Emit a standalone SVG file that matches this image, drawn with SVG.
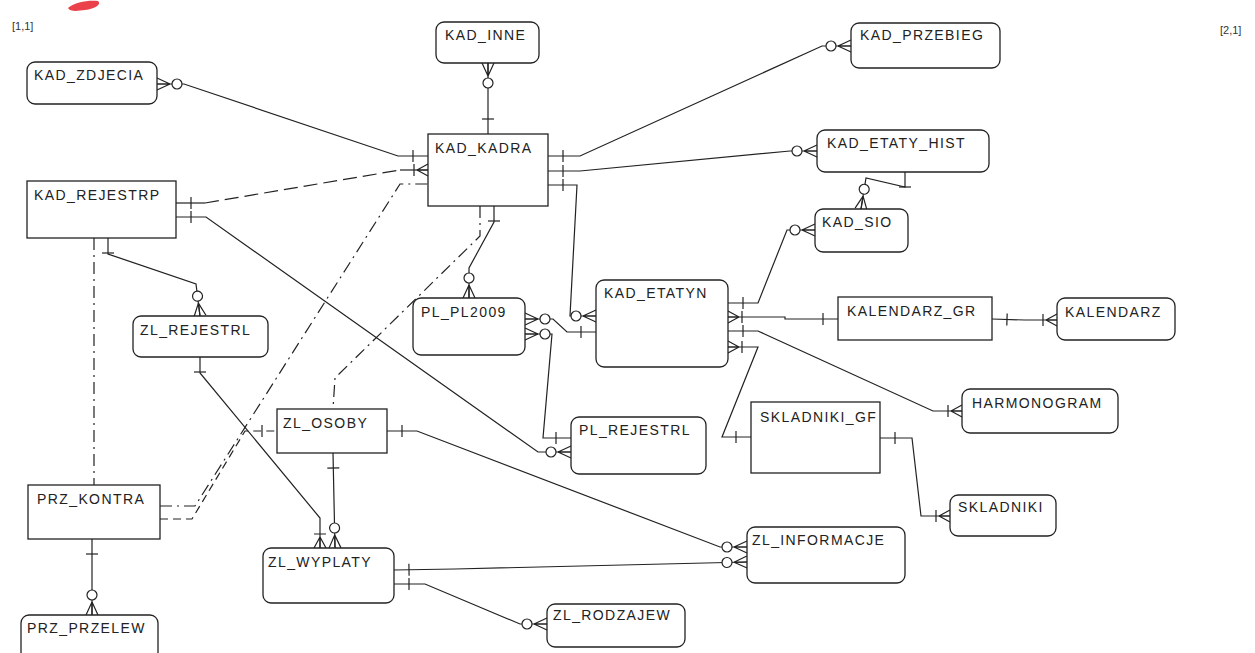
<svg xmlns="http://www.w3.org/2000/svg" width="1255" height="653" viewBox="0 0 1255 653">
<style>
.bg{fill:#ffffff}
.box{fill:#ffffff;stroke:#222;stroke-width:1.3}
.lbl{font-family:"Liberation Sans",Arial,sans-serif;font-size:14px;letter-spacing:1.4px;fill:#222}
.corner{font-family:"Liberation Sans",Arial,sans-serif;font-size:11px;fill:#333}
.ln{fill:none;stroke:#222;stroke-width:1.2}
.dash{stroke-dasharray:14 6}
.dashs{stroke-dasharray:8 5}
.dd{stroke-dasharray:12 5 2 5}
.mk{fill:none;stroke:#222;stroke-width:1.2}
.mc{fill:#ffffff;stroke:#222;stroke-width:1.2}
</style>
<defs>
<marker id="one" markerUnits="userSpaceOnUse" orient="auto-start-reverse" refX="0" refY="0" markerWidth="40" markerHeight="20" viewBox="-30 -10 40 20" overflow="visible">
<path class="mk" d="M-15,-6 V6"/>
</marker>
<marker id="zeroMany" markerUnits="userSpaceOnUse" orient="auto-start-reverse" refX="0" refY="0" markerWidth="40" markerHeight="20" viewBox="-30 -10 40 20" overflow="visible">
<path class="mk" d="M-13,0 L0,-6 M-13,0 L0,0 M-13,0 L0,6"/>
<circle class="mc" cx="-20" cy="0" r="5"/>
</marker>
<marker id="oneMany" markerUnits="userSpaceOnUse" orient="auto-start-reverse" refX="0" refY="0" markerWidth="40" markerHeight="20" viewBox="-30 -10 40 20" overflow="visible">
<path class="mk" d="M-11,0 L0,-6 M-11,0 L0,0 M-11,0 L0,6 M-14,-6 V6"/>
</marker>
</defs>
<rect class="bg" x="0" y="0" width="1255" height="653"/>
<path d="M68,8 C75,2 88,0 98,1 C102,4 95,9 85,10 C78,11 70,12 68,8 Z" fill="#e8202a" opacity="0.85"/>
<text class="corner" x="12" y="30">[1,1]</text>
<text class="corner" x="1220" y="34">[2,1]</text>

<g id="connectors">
<path class="ln" d="M488,134 L488,63" marker-start="url(#one)" marker-end="url(#zeroMany)"/>
<path class="ln" d="M428,156 L398,156 L184,84 L157,84" marker-start="url(#one)" marker-end="url(#zeroMany)"/>
<path class="ln" d="M176,203 L205,203" marker-start="url(#one)"/>
<path class="ln dash" d="M205,203 L400,170"/>
<path class="ln" d="M400,170 L428,170" marker-end="url(#oneMany)"/>
<path class="ln dd" d="M160,506 L195,506 L400,184 L428,184"/>
<path class="ln dashs" d="M160,519 L192,519 L245,431 L277,431" marker-end="url(#one)"/>
<path class="ln dd" d="M480,206 L480,236 L335,378 L333,409"/>
<path class="ln dd" d="M94,238 L94,485"/>
<path class="ln" d="M494,206 L494,222 L469,268 L469,298" marker-start="url(#one)" marker-end="url(#zeroMany)"/>
<path class="ln" d="M176,217 L206,217 L538,452 L571,452" marker-start="url(#one)" marker-end="url(#zeroMany)"/>
<path class="ln" d="M548,156 L580,156 L822,46 L851,46" marker-start="url(#one)" marker-end="url(#zeroMany)"/>
<path class="ln" d="M548,171 L580,171 L790,151 L817,151" marker-start="url(#one)" marker-end="url(#zeroMany)"/>
<path class="ln" d="M548,185 L577,185 L570,316 L596,316" marker-start="url(#one)" marker-end="url(#zeroMany)"/>
<path class="ln" d="M596,332 L567,332 L553,319 L525,319" marker-start="url(#one)" marker-end="url(#zeroMany)"/>
<path class="ln" d="M571,438 L543,438 L552,334 L525,334" marker-start="url(#one)" marker-end="url(#zeroMany)"/>
<path class="ln" d="M728,303 L758,303 L787,230 L815,230" marker-start="url(#one)" marker-end="url(#zeroMany)"/>
<path class="ln" d="M728,317 L785,317 L785,319 L838,319" marker-start="url(#oneMany)" marker-end="url(#one)"/>
<path class="ln" d="M728,331 L758,331 L933,411 L962,411" marker-start="url(#one)" marker-end="url(#oneMany)"/>
<path class="ln" d="M728,347 L758,347 L722,437 L751,437" marker-start="url(#oneMany)" marker-end="url(#one)"/>
<path class="ln" d="M992,319 L1025,320 L1057,320" marker-start="url(#one)" marker-end="url(#oneMany)"/>
<path class="ln" d="M880,438 L912,438 L921,516 L950,516" marker-start="url(#one)" marker-end="url(#oneMany)"/>
<path class="ln" d="M905,172 L905,187 L866,178 L861,209" marker-start="url(#one)" marker-end="url(#zeroMany)"/>
<path class="ln" d="M108,238 L108,254 L196,284 L200,316" marker-start="url(#one)" marker-end="url(#zeroMany)"/>
<path class="ln" d="M200,357 L200,373 L320,518 L320,548" marker-start="url(#one)" marker-end="url(#oneMany)"/>
<path class="ln" d="M333,453 L335,548" marker-start="url(#one)" marker-end="url(#zeroMany)"/>
<path class="ln" d="M387,431 L417,431 L720,547 L747,547" marker-start="url(#one)" marker-end="url(#zeroMany)"/>
<path class="ln" d="M394,570 L455,569 L747,562" marker-start="url(#one)" marker-end="url(#zeroMany)"/>
<path class="ln" d="M394,584 L425,584 L520,624 L547,624" marker-start="url(#one)" marker-end="url(#zeroMany)"/>
<path class="ln" d="M92,539 L92,615" marker-start="url(#one)" marker-end="url(#zeroMany)"/>
</g>

<g id="KAD_ZDJECIA"><rect class="box" x="27" y="62" width="130" height="42" rx="8"/><text class="lbl" x="34" y="80">KAD_ZDJECIA</text></g>
<g id="KAD_INNE"><rect class="box" x="436" y="22" width="103" height="41" rx="8"/><text class="lbl" x="445" y="40">KAD_INNE</text></g>
<g id="KAD_PRZEBIEG"><rect class="box" x="851" y="23" width="149" height="45" rx="8"/><text class="lbl" x="860" y="40">KAD_PRZEBIEG</text></g>
<g id="KAD_KADRA"><rect class="box" x="428" y="134" width="120" height="72"/><text class="lbl" x="435" y="153">KAD_KADRA</text></g>
<g id="KAD_ETATY_HIST"><rect class="box" x="817" y="130" width="172" height="42" rx="8"/><text class="lbl" x="827" y="148">KAD_ETATY_HIST</text></g>
<g id="KAD_REJESTRP"><rect class="box" x="27" y="181" width="149" height="57"/><text class="lbl" x="34" y="200">KAD_REJESTRP</text></g>
<g id="KAD_SIO"><rect class="box" x="815" y="209" width="93" height="43" rx="8"/><text class="lbl" x="822" y="227">KAD_SIO</text></g>
<g id="ZL_REJESTRL"><rect class="box" x="133" y="316" width="135" height="41" rx="8"/><text class="lbl" x="140" y="335">ZL_REJESTRL</text></g>
<g id="PL_PL2009"><rect class="box" x="413" y="298" width="112" height="57" rx="8"/><text class="lbl" x="421" y="317">PL_PL2009</text></g>
<g id="KAD_ETATYN"><rect class="box" x="596" y="280" width="132" height="87" rx="8"/><text class="lbl" x="604" y="298">KAD_ETATYN</text></g>
<g id="KALENDARZ_GR"><rect class="box" x="838" y="297" width="154" height="43"/><text class="lbl" x="847" y="316">KALENDARZ_GR</text></g>
<g id="KALENDARZ"><rect class="box" x="1057" y="298" width="118" height="42" rx="8"/><text class="lbl" x="1065" y="317">KALENDARZ</text></g>
<g id="HARMONOGRAM"><rect class="box" x="962" y="389" width="156" height="44" rx="8"/><text class="lbl" x="972" y="408">HARMONOGRAM</text></g>
<g id="ZL_OSOBY"><rect class="box" x="277" y="409" width="110" height="44"/><text class="lbl" x="283" y="428">ZL_OSOBY</text></g>
<g id="PL_REJESTRL"><rect class="box" x="571" y="417" width="135" height="57" rx="8"/><text class="lbl" x="579" y="435">PL_REJESTRL</text></g>
<g id="SKLADNIKI_GF"><rect class="box" x="751" y="402" width="129" height="71"/><text class="lbl" x="760" y="422">SKLADNIKI_GF</text></g>
<g id="SKLADNIKI"><rect class="box" x="950" y="495" width="106" height="41" rx="8"/><text class="lbl" x="958" y="512">SKLADNIKI</text></g>
<g id="PRZ_KONTRA"><rect class="box" x="28" y="485" width="132" height="54"/><text class="lbl" x="37" y="504">PRZ_KONTRA</text></g>
<g id="ZL_WYPLATY"><rect class="box" x="263" y="548" width="131" height="55" rx="8"/><text class="lbl" x="268" y="567">ZL_WYPLATY</text></g>
<g id="ZL_INFORMACJE"><rect class="box" x="747" y="527" width="158" height="56" rx="8"/><text class="lbl" x="752" y="545">ZL_INFORMACJE</text></g>
<g id="ZL_RODZAJEW"><rect class="box" x="547" y="604" width="138" height="43" rx="8"/><text class="lbl" x="553" y="620">ZL_RODZAJEW</text></g>
<g id="PRZ_PRZELEW"><rect class="box" x="21" y="615" width="137" height="45" rx="8"/><text class="lbl" x="27" y="633">PRZ_PRZELEW</text></g>
</svg>
